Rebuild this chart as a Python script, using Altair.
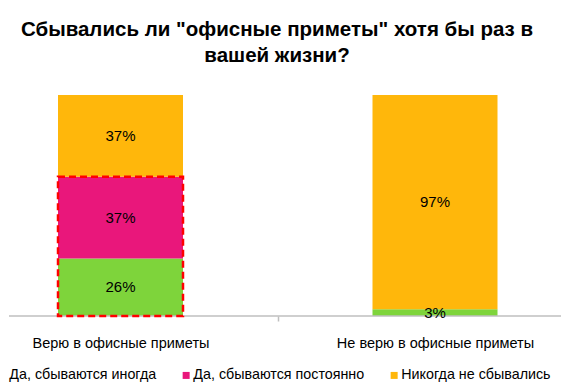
import altair as alt
import pandas as pd

categories = ["Верю в офисные приметы", "Не верю в офисные приметы"]
series = ["Да, сбываются иногда", "Да, сбываются постоянно", "Никогда не сбывались"]
believe = [26, 37, 37]
not_believe = [3, 0, 97]
colors = ["#7ED43B", "#E9177B", "#FFB70B"]
highlight_category = categories[0]
highlight_series_count = 2
title_lines = ["Сбывались ли \"офисные приметы\" хотя бы раз в", "вашей жизни?"]

rows = []
for cat, vals in zip(categories, [believe, not_believe]):
    for i, (s, v) in enumerate(zip(series, vals)):
        if v > 0:
            rows.append({"cat": cat, "series": s, "ord": i, "value": v})
df = pd.DataFrame(rows)
hl = pd.DataFrame([{"cat": highlight_category, "y0": 0,
                    "y1": sum(believe[:highlight_series_count])}])

PLOT_W, PLOT_H = 552, 221
FONT = "Liberation Sans"
BAR_W = 125

y_scale = alt.Scale(domain=[0, 100])
x_enc = alt.X(
    "cat:N", sort=categories,
    scale=alt.Scale(range=[-45.75, 583.25], paddingInner=0, paddingOuter=0),
    axis=alt.Axis(title=None, domain=False, tickBand="extent", ticks=True,
                  tickSize=5, tickColor="#bfbfbf", tickWidth=1.5,
                  labelFont=FONT, labelFontSize=14.5, labelColor="#000",
                  labelPadding=15, labelAngle=0, labelLimit=0),
)
x_plain = alt.X("cat:N", sort=categories)

bars = alt.Chart(df).mark_bar(width=BAR_W).encode(
    x=x_enc,
    y=alt.Y("value:Q", stack="zero", scale=y_scale, axis=None),
    color=alt.Color(
        "series:N", sort=series,
        scale=alt.Scale(domain=series, range=colors),
        legend=alt.Legend(title=None, orient="none", legendX=-14, legendY=273,
                          direction="horizontal", symbolType="square",
                          symbolSize=49, symbolStrokeWidth=0,
                          labelFont=FONT, labelFontSize=14.3, labelColor="#000",
                          columnPadding=22, labelOffset=0, padding=0,
                          labelLimit=0),
    ),
    order=alt.Order("ord:Q"),
)

baseline = alt.Chart(pd.DataFrame({"a": [0]})).mark_rule(
    color="#bfbfbf", strokeWidth=1.5
).encode(x=alt.value(0), x2=alt.value(PLOT_W), y=alt.value(PLOT_H))

highlight = alt.Chart(hl).mark_bar(
    width=BAR_W, fill="transparent", stroke="#ff0000", strokeWidth=2.5,
    strokeDash=[7, 4]
).encode(x=x_plain, y=alt.Y("y0:Q", scale=y_scale), y2="y1:Q")

labels = alt.Chart(df).transform_stack(
    stack="value", as_=["v0", "v1"], groupby=["cat"],
    sort=[alt.SortField("ord", order="ascending")]
).transform_calculate(
    mid="(datum.v0 + datum.v1) / 2", lbl="datum.value + '%'"
).mark_text(font=FONT, fontSize=15, color="#000").encode(
    x=x_plain, y=alt.Y("mid:Q", scale=y_scale), text="lbl:N"
)

chart = alt.layer(bars, baseline, highlight, labels).properties(
    width=PLOT_W, height=PLOT_H,
    title=alt.TitleParams(title_lines, font=FONT, fontSize=20.5,
                          fontWeight="bold", color="#000", anchor="middle",
                          lineHeight=26.5, offset=28.5, dx=-8),
    autosize=alt.AutoSizeParams(type="none"),
    padding={"left": 1, "top": 87, "right": 0, "bottom": 66},
    background="white",
).configure_view(stroke=None)

chart.save("out.html", embed_options={"renderer": "svg", "actions": False})
